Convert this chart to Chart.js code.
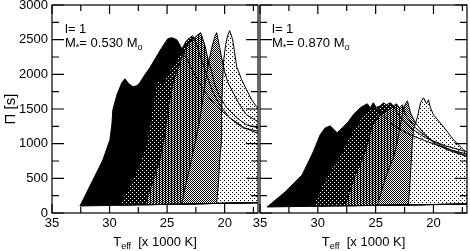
<!DOCTYPE html>
<html lang="en">
<head>
<meta charset="UTF-8">
<title>Periodos l=1 vs Teff</title>
<script src="https://cdn.jsdelivr.net/npm/chart.js"></script>
<style>
    body { margin: 0; background: #fff; font-family: 'Liberation Sans', Arial, sans-serif; }
    .wrap { position: relative; width: 470px; height: 251px; overflow: hidden; }
    canvas { position: absolute; top: 0; }
    #leftChart { left: 0; }
    #rightChart { left: 240px; }
    .note { position: absolute; font-size: 13px; line-height: 13px; color: #000; white-space: nowrap; }
    .note sub, .xtitle sub { font-size: 9px; line-height: 0; vertical-align: -3px; }
    .xtitle { position: absolute; top: 235px; text-align: center; font-size: 13px; line-height: 13px; color: #000; white-space: nowrap; }
</style>
</head>
<body>
<div class="wrap">
    <canvas id="leftChart" width="262" height="251"></canvas>
    <canvas id="rightChart" width="230" height="251"></canvas>

    <div class="note" style="left:65px; top:22px;">l= 1</div>
    <div class="note" style="left:65px; top:36px;">M<sub>*</sub>= 0.530 M<sub>o</sub></div>
    <div class="note" style="left:272px; top:22px;">l= 1</div>
    <div class="note" style="left:272px; top:36px;">M<sub>*</sub>= 0.870 M<sub>o</sub></div>

    <div class="xtitle" style="left:52px; width:206px;">T<sub>eff</sub>&nbsp; [x 1000 K]</div>
    <div class="xtitle" style="left:260px; width:207px;">T<sub>eff</sub>&nbsp; [x 1000 K]</div>
</div>

<script>
    // ejes
    const xMin = 17.1, xMax = 35;
    const xMajor = [35, 30, 25, 20];
    const xMinor = [32.5, 27.5, 22.5, 17.5];
    const yMajor = [0, 500, 1000, 1500, 2000, 2500, 3000];
    const yMinor = [250, 750, 1250, 1750, 2250, 2750];

    // M* = 0.530 : regiones [Teff, Pi]
    const left1 = [[32.57,101],[31.44,477],[30.58,766],[29.97,1055],[29.80,1272],[29.71,1488],[29.36,1705],
        [28.93,1879],[28.67,1936],[28.32,1864],[27.97,1821],[27.63,1835],[27.37,1879],[26.93,1994],[26.50,2095],
        [25.98,2240],[25.46,2384],[24.94,2514],[24.59,2529],[24.16,2500],[23.90,2428],[23.46,2283],[22.60,1994],
        [21.73,1748],[20.86,1561],[19.56,1373],[18.26,1228],[16.8,1127],[16.8,150],[32.57,101]];
    const left2 = [[29.10,112],[27.97,491],[27.28,766],[26.76,997],[26.50,1272],[26.33,1488],[26.07,1705],
        [25.89,1893],[25.63,1922],[25.37,1864],[25.03,1980],[24.59,2095],[24.16,2211],[23.73,2355],[23.38,2471],
        [23.03,2529],[22.77,2558],[22.42,2428],[22.16,2283],[21.56,1994],[21.04,1748],[20.43,1561],[19.56,1373],
        [18.43,1228],[16.8,1170],[16.8,150],[29.10,112]];
    const left3 = [[26.93,119],[26.33,405],[25.63,766],[25.20,1127],[25.03,1344],[24.77,1633],[24.42,1922],
        [24.07,2066],[23.64,2283],[23.20,2428],[22.77,2500],[22.42,2558],[22.08,2601],[21.73,2428],[21.47,2240],
        [21.12,2037],[20.86,1850],[20.43,1676],[19.82,1517],[18.95,1373],[18.09,1272],[16.8,1214],[16.8,150],[26.93,119]];
    const left4 = [[23.73,128],[23.38,405],[22.94,723],[22.51,1055],[22.16,1344],[21.90,1633],[21.64,1922],
        [21.38,2182],[21.12,2384],[20.86,2543],[20.69,2601],[20.43,2384],[20.26,2240],[20.00,2037],[19.74,1893],
        [19.30,1748],[18.69,1561],[18.09,1416],[16.8,1286],[16.8,150],[23.73,128]];
    const left5 = [[20.69,138],[20.52,477],[20.43,766],[20.26,1055],[20.26,1488],[20.17,1922],[20.08,2211],
        [19.91,2428],[19.74,2558],[19.56,2630],[19.30,2500],[19.13,2312],[18.95,2110],[18.52,1922],[18.09,1777],
        [17.65,1633],[17.22,1532],[16.8,1459],[16.8,150],[20.69,138]];

    // M* = 0.870
    const right1 = [[34.39,87],[32.83,303],[31.36,549],[30.40,881],[29.80,1127],[29.36,1228],[28.93,1257],
        [28.58,1199],[28.32,1156],[27.80,1243],[27.37,1315],[26.93,1416],[26.33,1517],[25.89,1561],[25.72,1575],
        [25.46,1517],[25.20,1590],[24.94,1517],[24.16,1373],[23.29,1243],[21.99,1127],[20.26,1012],[18.52,910],
        [16.79,838],[16.79,130],[34.39,87]];
    const right2 = [[30.40,97],[29.62,405],[28.76,650],[28.06,838],[27.63,983],[27.19,1127],[26.76,1243],
        [26.15,1387],[25.46,1488],[25.03,1517],[24.59,1546],[24.33,1590],[24.07,1561],[23.73,1590],[23.46,1546],
        [22.86,1373],[21.99,1228],[20.69,1084],[18.95,968],[16.79,867],[16.79,130],[30.40,97]];
    const right3 = [[27.63,104],[27.19,332],[26.76,549],[26.15,766],[25.72,983],[25.29,1272],[24.59,1416],
        [23.90,1488],[23.46,1546],[23.20,1575],[22.94,1517],[22.68,1561],[22.42,1416],[21.56,1228],[20.26,1055],
        [18.52,910],[16.79,809],[16.79,130],[27.63,104]];
    const right4 = [[24.85,110],[24.33,405],[23.90,621],[23.46,795],[23.12,1026],[22.86,1272],[22.60,1488],
        [22.42,1575],[22.25,1618],[21.99,1445],[21.56,1300],[20.86,1156],[20.00,1012],[18.78,910],[16.79,795],
        [16.79,130],[24.85,110]];
    const right5 = [[22.16,117],[21.99,549],[21.82,1026],[21.73,1199],[21.38,1387],[21.12,1590],[20.86,1662],
        [20.60,1575],[20.43,1633],[20.26,1517],[20.00,1416],[19.13,1243],[18.26,1055],[17.39,910],[16.79,838],
        [16.79,130],[22.16,117]];

    // tramas de relleno
    function trama(w, h, fondo, tinta, celdas) {
        const c = document.createElement('canvas');
        c.width = w; c.height = h;
        const g = c.getContext('2d');
        g.fillStyle = fondo; g.fillRect(0, 0, w, h);
        g.fillStyle = tinta;
        celdas.forEach(([x, y]) => g.fillRect(x, y, 1, 1));
        return g.createPattern(c, 'repeat');
    }
    const rellenos = [
        '#000',
        trama(4, 4, '#000', '#fff', [[0, 0], [2, 2]]),
        trama(3, 2, '#000', '#fff', [[1, 1], [2, 0]]),
        trama(2, 2, '#fff', '#000', [[0, 0], [1, 1]]),
        trama(4, 4, '#fff', '#000', [[0, 0], [2, 2]])
    ];

    // marco con marcas hacia dentro
    const marco = {
        id: 'marco',
        afterDatasetsDraw(chart) {
            const {ctx, chartArea: a, scales: {x, y}} = chart;
            ctx.save();
            ctx.strokeStyle = '#000';
            ctx.lineWidth = 1.2;
            ctx.strokeRect(a.left, a.top, a.right - a.left, a.bottom - a.top);
            ctx.beginPath();
            const tx = (v, len) => {
                const p = x.getPixelForValue(v);
                ctx.moveTo(p, a.bottom); ctx.lineTo(p, a.bottom - len);
                ctx.moveTo(p, a.top); ctx.lineTo(p, a.top + len);
            };
            const ty = (v, len) => {
                const p = y.getPixelForValue(v);
                ctx.moveTo(a.left, p); ctx.lineTo(a.left + len, p);
                ctx.moveTo(a.right, p); ctx.lineTo(a.right - len, p);
            };
            xMajor.forEach(v => tx(v, 9));
            xMinor.forEach(v => tx(v, 6));
            yMajor.forEach(v => ty(v, 12));
            yMinor.forEach(v => ty(v, 7));
            ctx.stroke();
            ctx.restore();
        }
    };

    Chart.defaults.font.family = "'Liberation Sans', Arial, sans-serif";
    Chart.defaults.color = '#000';

    function panel(id, regiones, conEjeY, anchoY, padDer) {
        const datasets = [];
        regiones.forEach((pts, i) => {
            datasets.push({
                data: pts.map(p => ({x: p[0], y: p[1]})),
                fill: 'shape',
                backgroundColor: rellenos[i],
                borderColor: 'rgba(0,0,0,0)',
                borderWidth: 1,
                pointRadius: 0,
                order: 10 - i
            });
            datasets.push({
                data: pts.map(p => ({x: p[0], y: p[1]})),
                fill: false,
                borderColor: '#000',
                borderWidth: 1,
                pointRadius: 0,
                order: 1
            });
        });

        return new Chart(document.getElementById(id), {
            type: 'line',
            data: { datasets },
            options: {
                responsive: false,
                animation: false,
                events: [],
                layout: { padding: { top: 5, right: padDer, left: 0, bottom: 0 } },
                plugins: { legend: { display: false }, tooltip: { enabled: false } },
                scales: {
                    x: {
                        type: 'linear', min: xMin, max: xMax, reverse: true,
                        grid: { display: false, drawTicks: false },
                        border: { display: false },
                        ticks: { padding: 3, font: { size: 13 }, maxRotation: 0, autoSkip: false, callback: v => String(v) },
                        afterBuildTicks: s => { s.ticks = xMajor.map(v => ({ value: v })); },
                        afterFit: s => { s.height = 38; s.paddingLeft = 0; s.paddingRight = 0; }
                    },
                    y: {
                        type: 'linear', min: 0, max: 3000,
                        grid: { display: false, drawTicks: false },
                        border: { display: false },
                        ticks: { display: conEjeY, stepSize: 500, padding: 4, font: { size: 13 }, callback: v => String(v) },
                        title: { display: conEjeY, text: 'Π [s]', font: { size: 15 }, padding: { top: 2, bottom: 0 } },
                        afterFit: s => { s.width = anchoY; s.paddingTop = 0; s.paddingBottom = 0; }
                    }
                }
            },
            plugins: [marco]
        });
    }

    panel('leftChart', [left1, left2, left3, left4, left5], true, 52, 4);
    panel('rightChart', [right1, right2, right3, right4, right5], false, 20, 3);
</script>
</body>
</html>
